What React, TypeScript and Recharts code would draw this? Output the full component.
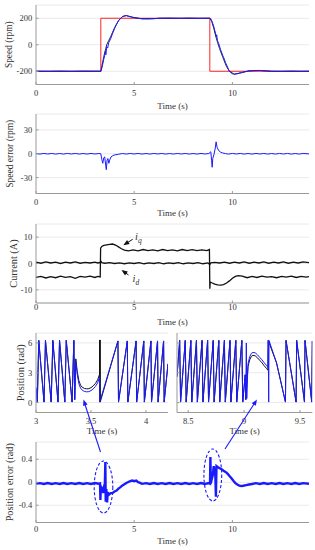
import React from 'react';
import { LineChart, Line, XAxis, YAxis, CartesianGrid } from 'recharts';

type Pt = [number, number];

const FONT = "'Liberation Serif', 'Times New Roman', serif";
const TEXT = '#333333';
const FRAME = '#9a9a9a';
const GRID = '#e4e4e4';
const BLUE = '#1a1aff';
const RED = '#ff2424';
const BLACK = '#111111';

// ---- speed (rpm) ----
const speedRef: Pt[] = [
  [0, -200], [3.3, -200], [3.3, 200], [8.85, 200], [8.85, -200], [13.9, -200],
];
const speedEst: Pt[] = [
  [0, -200], [3.3, -200], [3.35, -165], [3.45, -90], [3.55, -30], [3.6, 0], [3.7, 30],
  [3.8, 60], [3.9, 95], [4.0, 128], [4.2, 182], [4.4, 212], [4.6, 220], [4.9, 208],
  [5.4, 196], [6.0, 197], [6.3, 200], [8.85, 200], [8.95, 175], [9.05, 125], [9.15, 65],
  [9.25, 15], [9.35, -30], [9.5, -90], [9.7, -165], [9.85, -200], [10.1, -222],
  [10.45, -211], [10.85, -197], [11.4, -194], [12.0, -200], [13.9, -200],
];
const speedMeas: Pt[] = [
  [0, -200], [0.6, -201], [1.2, -199], [1.8, -201], [2.4, -199], [3.0, -200], [3.3, -200],
  [3.35, -178], [3.4, -145], [3.45, -110], [3.5, -80], [3.53, -50], [3.56, -75], [3.6, -15],
  [3.65, -25], [3.7, 15], [3.8, 45], [3.9, 85], [4.0, 122], [4.1, 155], [4.2, 180],
  [4.3, 198], [4.4, 212], [4.5, 219], [4.6, 220], [4.7, 216], [4.9, 208], [5.1, 201],
  [5.4, 196], [5.7, 195], [6.0, 197], [6.3, 200], [6.8, 201], [7.3, 199], [7.8, 201],
  [8.3, 199], [8.85, 200], [8.9, 196], [8.95, 180], [9.0, 160], [9.05, 138], [9.1, 110],
  [9.15, 80], [9.18, 60], [9.2, 75], [9.24, 30], [9.3, 10], [9.4, -38], [9.5, -78],
  [9.56, -98], [9.65, -135], [9.73, -160], [9.82, -193], [9.9, -208], [10.0, -219],
  [10.1, -222], [10.25, -219], [10.45, -211], [10.65, -203], [10.85, -197], [11.1, -194],
  [11.4, -194], [11.7, -197], [12.0, -200], [12.5, -201], [13.0, -199], [13.5, -201],
  [13.9, -200],
];

// ---- speed error (rpm) ----
const speedErr: Pt[] = [
  [0, 0.3], [0.2, -0.4], [0.4, 0.4], [0.6, -0.3], [0.8, 0.4], [1.0, -0.4], [1.2, 0.3],
  [1.4, -0.4], [1.6, 0.4], [1.8, -0.3], [2.0, 0.4], [2.2, -0.4], [2.4, 0.3], [2.6, -0.4],
  [2.8, 0.4], [3.0, -0.3], [3.2, 0.3], [3.3, 0], [3.35, -7], [3.4, -12],
  [3.45, -5], [3.5, -4], [3.55, -15], [3.58, -20], [3.62, -8], [3.66, -6], [3.71, -12],
  [3.75, -8], [3.82, -4], [3.9, -2.5], [4.0, -1.5], [4.2, -0.6], [4.4, 0.3], [4.6, -0.4],
  [4.8, 0.4], [5.0, -0.3], [5.2, 0.4], [5.4, -0.4], [5.6, 0.3], [5.8, -0.4], [6.0, 0.4],
  [6.2, -0.3], [6.4, 0.4], [6.6, -0.4], [6.8, 0.3], [7.0, -0.4], [7.2, 0.4], [7.4, -0.3],
  [7.6, 0.4], [7.8, -0.4], [8.0, 0.3], [8.2, -0.4], [8.4, 0.4], [8.6, -0.3], [8.8, 0.3],
  [8.9, 2.5], [8.94, -8], [8.97, -17], [9.0, -6], [9.06, -1], [9.12, 6], [9.17, 15],
  [9.22, 8], [9.3, 4], [9.4, 2], [9.5, 1], [9.65, 0.2], [9.8, -0.4], [10.0, 0.4],
  [10.2, -0.3], [10.4, 0.4], [10.6, -0.4], [10.8, 0.3], [11.0, -0.4], [11.2, 0.4],
  [11.4, -0.3], [11.6, 0.4], [11.8, -0.4], [12.0, 0.3], [12.2, -0.4], [12.4, 0.4],
  [12.6, -0.3], [12.8, 0.4], [13.0, -0.4], [13.2, 0.3], [13.4, -0.4], [13.6, 0.4],
  [13.9, -0.2],
];

// ---- currents (A) ----
const iq: Pt[] = [
  [0, -5.3], [0.25, -4.9], [0.5, -5.5], [0.75, -5.0], [1.0, -5.4], [1.25, -4.8], [1.5, -5.3],
  [1.75, -5.0], [2.0, -5.6], [2.25, -4.9], [2.5, -5.2], [2.75, -4.8], [3.0, -5.3],
  [3.15, -4.9], [3.27, -5.1], [3.29, 5.8], [3.35, 6.5], [3.45, 6.9], [3.6, 7.1], [3.75, 7.3],
  [3.9, 7.4], [4.05, 7.0], [4.2, 6.3], [4.35, 5.6], [4.5, 5.1], [4.7, 4.8], [4.95, 5.2],
  [5.2, 4.8], [5.45, 5.3], [5.7, 4.9], [5.95, 5.2], [6.2, 4.8], [6.45, 5.3], [6.7, 4.9],
  [6.95, 5.2], [7.2, 4.8], [7.45, 5.3], [7.7, 4.9], [7.95, 5.3], [8.2, 4.9], [8.45, 5.2],
  [8.7, 4.9], [8.83, 5.3], [8.85, -9.6], [8.87, -7.0], [8.95, -7.3], [9.1, -7.8],
  [9.25, -8.1], [9.4, -8.2], [9.55, -8.0], [9.7, -7.4], [9.85, -6.6], [10.0, -5.6],
  [10.15, -4.9], [10.3, -4.6], [10.5, -4.8], [10.75, -5.4], [11.0, -4.9], [11.25, -5.3],
  [11.5, -4.8], [11.75, -5.2], [12.0, -5.0], [12.25, -5.4], [12.5, -4.9], [12.75, -5.2],
  [13.0, -4.8], [13.25, -5.3], [13.5, -4.9], [13.75, -5.2], [13.9, -5.0],
];
const id: Pt[] = [
  [0, 0.5], [0.25, 0.1], [0.5, 0.6], [0.75, 0.2], [1.0, 0.5], [1.25, 0.0], [1.5, 0.5],
  [1.75, 0.2], [2.0, 0.6], [2.25, 0.1], [2.5, 0.4], [2.75, 0.2], [3.0, 0.5], [3.15, 0.2],
  [3.27, 0.4], [3.29, 1.0], [3.35, 0.3], [3.5, 0.1], [3.75, 0.3], [4.0, 0.0], [4.25, 0.2],
  [4.5, -0.1], [4.75, 0.2], [5.0, 0.0], [5.25, 0.3], [5.5, -0.1], [5.75, 0.2], [6.0, 0.0],
  [6.25, 0.3], [6.5, -0.1], [6.75, 0.2], [7.0, 0.0], [7.25, 0.3], [7.5, -0.1], [7.75, 0.2],
  [8.0, 0.0], [8.25, 0.3], [8.5, -0.1], [8.75, 0.2], [8.85, -0.4], [8.9, 0.2], [9.1, 0.4],
  [9.35, 0.2], [9.6, 0.5], [9.85, 0.1], [10.1, 0.5], [10.35, 0.2], [10.6, 0.6], [10.85, 0.1],
  [11.1, 0.5], [11.35, 0.2], [11.6, 0.6], [11.85, 0.1], [12.1, 0.5], [12.35, 0.2],
  [12.6, 0.6], [12.85, 0.1], [13.1, 0.5], [13.35, 0.2], [13.6, 0.6], [13.9, 0.3],
];

// ---- rotor position (rad), zoom around 3.5 s ----
const posLeftAct: Pt[] = [
  [3.0, 1.5], [3.012, 0.05], [3.025, 6.25], [3.073, 0.05], [3.086, 6.25], [3.138, 0.05],
  [3.153, 6.25], [3.2, 0.05], [3.214, 6.25], [3.262, 0.05], [3.275, 6.25], [3.328, 0.05],
  [3.344, 6.25], [3.352, 0.3], [3.362, 4.4], [3.375, 3.1], [3.39, 2.2], [3.405, 1.75],
  [3.42, 1.55], [3.44, 1.42], [3.46, 1.38], [3.48, 1.4], [3.5, 1.5], [3.52, 1.68],
  [3.54, 1.92], [3.56, 2.28], [3.578, 2.85], [3.58, 6.3], [3.581, 0.05], [3.582, 6.3],
  [3.584, 0.05], [3.745, 6.2], [3.75, 0.05], [3.83, 6.2],
  [3.835, 0.05], [3.91, 6.2], [3.915, 0.05], [3.98, 6.2], [3.985, 0.05], [4.045, 6.2],
  [4.05, 0.05], [4.105, 6.2], [4.11, 0.05], [4.16, 6.2], [4.165, 0.05], [4.2, 3.9],
];
const posLeftEst: Pt[] = [
  [3.0, 1.5], [3.012, 0.05], [3.025, 6.25], [3.073, 0.05], [3.086, 6.25], [3.138, 0.05],
  [3.153, 6.25], [3.2, 0.05], [3.214, 6.25], [3.262, 0.05], [3.275, 6.25], [3.328, 0.05],
  [3.344, 6.25], [3.352, 0.3], [3.362, 4.1], [3.375, 2.8], [3.39, 1.9], [3.405, 1.45],
  [3.42, 1.25], [3.44, 1.12], [3.46, 1.08], [3.48, 1.1], [3.5, 1.2], [3.52, 1.38],
  [3.54, 1.62], [3.56, 1.98], [3.578, 2.55], [3.579, 0.05], [3.745, 6.2], [3.75, 0.05],
  [3.83, 6.2], [3.835, 0.05], [3.91, 6.2], [3.915, 0.05], [3.98, 6.2], [3.985, 0.05],
  [4.045, 6.2], [4.05, 0.05], [4.105, 6.2], [4.11, 0.05], [4.16, 6.2], [4.165, 0.05],
  [4.2, 3.9],
];

// ---- rotor position (rad), zoom around 9 s ----
const posRightAct: Pt[] = [
  [8.4, 2.6], [8.424, 6.25], [8.432, 0.05], [8.474, 6.25], [8.482, 0.05], [8.524, 6.25],
  [8.532, 0.05], [8.574, 6.25], [8.582, 0.05], [8.624, 6.25], [8.632, 0.05], [8.674, 6.25],
  [8.682, 0.05], [8.724, 6.25], [8.732, 0.05], [8.774, 6.25], [8.782, 0.05], [8.824, 6.25],
  [8.832, 0.05], [8.874, 6.25], [8.882, 0.05], [8.926, 6.25], [8.934, 0.05], [8.98, 6.25],
  [8.988, 0.05], [9.01, 2.8], [9.015, 0.3], [9.035, 3.6], [9.05, 4.3], [9.065, 4.65],
  [9.08, 4.75], [9.1, 4.7], [9.12, 4.5], [9.14, 4.25], [9.16, 4.0], [9.18, 3.7], [9.2, 3.45],
  [9.213, 3.25], [9.216, 6.25], [9.29, 4.0], [9.37, 0.05], [9.375, 6.25], [9.465, 0.05],
  [9.47, 6.25], [9.54, 0.05], [9.545, 6.25], [9.605, 0.05], [9.61, 6.2],
];
const posRightEst: Pt[] = [
  [8.4, 2.6], [8.424, 6.25], [8.432, 0.05], [8.474, 6.25], [8.482, 0.05], [8.524, 6.25],
  [8.532, 0.05], [8.574, 6.25], [8.582, 0.05], [8.624, 6.25], [8.632, 0.05], [8.674, 6.25],
  [8.682, 0.05], [8.724, 6.25], [8.732, 0.05], [8.774, 6.25], [8.782, 0.05], [8.824, 6.25],
  [8.832, 0.05], [8.874, 6.25], [8.882, 0.05], [8.926, 6.25], [8.934, 0.05], [8.98, 6.25],
  [8.988, 0.05], [9.01, 2.8], [9.015, 0.3], [9.02, 6.0], [9.024, 0.4], [9.035, 3.9],
  [9.05, 4.6], [9.065, 4.95], [9.08, 5.05], [9.1, 5.0], [9.12, 4.8], [9.14, 4.55],
  [9.16, 4.3], [9.18, 4.0], [9.2, 3.75], [9.213, 3.55], [9.216, 6.25], [9.22, 0.05],
  [9.223, 6.25], [9.29, 4.0], [9.37, 0.05], [9.375, 6.25], [9.465, 0.05], [9.47, 6.25],
  [9.54, 0.05], [9.545, 6.25], [9.605, 0.05], [9.61, 6.2],
];

// ---- position error (rad) ----
const posErr: Pt[] = [
  [0, -0.025], [0.2, -0.015], [0.4, -0.03], [0.6, -0.014], [0.8, -0.03], [1.0, -0.015],
  [1.2, -0.029], [1.4, -0.014], [1.6, -0.03], [1.8, -0.015], [2.0, -0.03], [2.2, -0.014],
  [2.4, -0.03], [2.6, -0.015], [2.8, -0.029], [3.0, -0.014], [3.2, -0.025], [3.26, -0.02],
  [3.28, -0.31], [3.3, -0.06], [3.34, -0.13], [3.38, -0.08], [3.42, -0.19], [3.46, -0.1],
  [3.5, -0.13], [3.53, 0.35], [3.55, -0.34], [3.58, -0.12], [3.62, -0.35], [3.65, -0.17],
  [3.7, -0.22], [3.8, -0.19], [3.9, -0.185], [4.0, -0.16], [4.1, -0.145], [4.2, -0.11],
  [4.3, -0.085], [4.4, -0.055], [4.5, -0.035], [4.6, -0.012], [4.7, 0.005], [4.8, 0.02],
  [4.9, 0.03], [5.0, 0.018], [5.1, 0.028], [5.2, 0.0], [5.3, -0.01], [5.4, -0.028],
  [5.6, -0.015], [5.8, -0.03], [6.0, -0.014], [6.2, -0.03], [6.4, -0.015], [6.6, -0.029],
  [6.8, -0.014], [7.0, -0.03], [7.2, -0.015], [7.4, -0.03], [7.6, -0.014], [7.8, -0.029],
  [8.0, -0.015], [8.2, -0.03], [8.4, -0.014], [8.6, -0.03], [8.8, -0.015], [8.86, -0.025],
  [8.88, 0.44], [8.9, -0.02], [8.95, 0.06], [9.0, 0.12], [9.05, 0.28], [9.08, 0.12],
  [9.12, 0.26], [9.16, -0.25], [9.19, 0.28], [9.25, 0.265], [9.35, 0.245], [9.45, 0.225],
  [9.55, 0.2], [9.65, 0.18], [9.75, 0.15], [9.85, 0.11], [9.95, 0.07], [10.05, 0.025],
  [10.15, -0.015], [10.25, -0.04], [10.35, -0.058], [10.45, -0.065], [10.55, -0.06],
  [10.7, -0.05], [10.85, -0.04], [11.0, -0.03], [11.2, -0.015], [11.4, -0.03],
  [11.6, -0.014], [11.8, -0.029], [12.0, -0.015], [12.2, -0.03], [12.4, -0.014],
  [12.6, -0.03], [12.8, -0.015], [13.0, -0.029], [13.2, -0.014], [13.4, -0.03],
  [13.6, -0.015], [13.9, -0.025],
];

// ---- axes ----
const timeTicks = [0, 5, 10];
const timeDomain: [number, number] = [0, 13.9];
const speedTicks = [-200, 0, 200];
const errTicks = [-30, 0, 30];
const currentTicks = [-10, 0, 10];
const posTicks = [0, 3, 6];
const zoomLeftTicks = [3, 3.5, 4];
const zoomRightTicks = [8.5, 9, 9.5];
const posErrTicks = [-0.4, 0, 0.4];

const toRows = (pts: Pt[]) => pts.map(([t, v]) => ({ t, v }));

interface SeriesDef {
  key: string;
  pts: Pt[];
  color: string;
  width?: number;
}

interface PanelProps {
  box: { l: number; r: number; t: number; b: number };
  xDomain: [number, number];
  xTicks: number[];
  yDomain: [number, number];
  yTicks: number[];
  yLabel?: string;
  yLabelSize?: number;
  yLabelX?: number;
  tickGap: number;
  titleGap: number;
  series: SeriesDef[];
}

const Y_AXIS_W = 36;
const X_AXIS_H = 30;
const PAD = 3;
const TICK_LEN = -2.5;

const Panel: React.FC<PanelProps> = ({
  box,
  xDomain,
  xTicks,
  yDomain,
  yTicks,
  yLabel,
  yLabelSize = 10,
  yLabelX = 9,
  tickGap,
  titleGap,
  series,
}) => {
  const left = box.l - Y_AXIS_W;
  const top = box.t - PAD;
  const width = box.r - box.l + Y_AXIS_W + PAD;
  const height = box.b - box.t + PAD + X_AXIS_H;
  const tickFont = { fontSize: 8.5, fill: TEXT, fontFamily: FONT };
  const blank = () => '';

  return (
    <div style={{ position: 'absolute', left, top, width, height }}>
      <LineChart
        width={width}
        height={height}
        margin={{ top: PAD, right: PAD, bottom: 0, left: 0 }}
      >
        <CartesianGrid vertical={false} stroke={GRID} strokeWidth={0.8} />
        <XAxis
          dataKey='t'
          type='number'
          domain={xDomain}
          ticks={xTicks}
          interval={0}
          allowDataOverflow
          height={X_AXIS_H}
          tickSize={TICK_LEN}
          tickMargin={tickGap}
          tick={tickFont}
          stroke={FRAME}
          label={{
            value: 'Time (s)',
            position: 'insideTop',
            offset: titleGap,
            style: { fontSize: 9, fill: TEXT, fontFamily: FONT },
          }}
        />
        <XAxis
          xAxisId='top'
          orientation='top'
          dataKey='t'
          type='number'
          domain={xDomain}
          ticks={xTicks}
          interval={0}
          allowDataOverflow
          height={0}
          tickSize={TICK_LEN}
          tickFormatter={blank}
          stroke={FRAME}
        />
        <YAxis
          type='number'
          domain={yDomain}
          ticks={yTicks}
          interval={0}
          allowDataOverflow
          width={Y_AXIS_W}
          tickSize={TICK_LEN}
          tickMargin={6.3}
          tick={tickFont}
          tickFormatter={yLabel ? undefined : blank}
          stroke={FRAME}
          label={
            yLabel
              ? {
                  value: yLabel,
                  angle: -90,
                  position: 'insideLeft',
                  offset: yLabelX - left,
                  style: {
                    textAnchor: 'middle',
                    fontSize: yLabelSize,
                    fill: TEXT,
                    fontFamily: FONT,
                  },
                }
              : undefined
          }
        />
        <YAxis
          yAxisId='right'
          orientation='right'
          type='number'
          domain={yDomain}
          ticks={yTicks}
          interval={0}
          allowDataOverflow
          width={0}
          tickSize={TICK_LEN}
          tickFormatter={blank}
          stroke={FRAME}
        />
        {series.map((s) => (
          <Line
            key={s.key}
            data={toRows(s.pts)}
            dataKey='v'
            type='linear'
            stroke={s.color}
            strokeWidth={s.width ?? 1}
            dot={false}
            activeDot={false}
            isAnimationActive={false}
          />
        ))}
      </LineChart>
    </div>
  );
};

const headPoints = (tx: number, ty: number, hx: number, hy: number) => {
  const dx = hx - tx;
  const dy = hy - ty;
  const d = Math.hypot(dx, dy);
  const ux = dx / d;
  const uy = dy / d;
  const bx = hx - ux * 6;
  const by = hy - uy * 6;
  return `${hx},${hy} ${bx - uy * 2.4},${by + ux * 2.4} ${bx + uy * 2.4},${by - ux * 2.4}`;
};

const Annotations = () => (
  <svg
    width={315}
    height={550}
    style={{ position: 'absolute', left: 0, top: 0, pointerEvents: 'none' }}
  >
    {/* i_q / i_d call-outs */}
    <line x1={132.7} y1={239.3} x2={125} y2={244.2} stroke={BLACK} strokeWidth={1} />
    <polygon points={headPoints(132.7, 239.3, 123.3, 245.3)} fill={BLACK} />
    <text x={135} y={240} fontFamily={FONT} fontStyle='italic' fontSize={10.5} fill={TEXT}>
      i<tspan dy={2.5} fontSize={7.5}>q</tspan>
    </text>
    <line x1={128.5} y1={275} x2={123} y2={271} stroke={BLACK} strokeWidth={1} />
    <polygon points={headPoints(128.5, 275, 121.5, 270)} fill={BLACK} />
    <text x={132.5} y={282} fontFamily={FONT} fontStyle='italic' fontSize={10.5} fill={TEXT}>
      i<tspan dy={2.5} fontSize={7.5}>d</tspan>
    </text>

    {/* highlighted transients and pointers to the zoomed views */}
    <ellipse cx={103.5} cy={487} rx={9.3} ry={26} fill='none' stroke={BLUE} strokeWidth={1.1} strokeDasharray='3 2' />
    <ellipse cx={212.8} cy={475} rx={8.9} ry={26} fill='none' stroke={BLUE} strokeWidth={1.1} strokeDasharray='3 2' />
    <line x1={100.5} y1={452} x2={84.5} y2={403} stroke={BLUE} strokeWidth={1.1} />
    <polygon points={headPoints(100.5, 452, 83.5, 399.5)} fill={BLUE} />
    <line x1={225} y1={449} x2={255} y2={402.5} stroke={BLUE} strokeWidth={1.1} />
    <polygon points={headPoints(225, 449, 257, 399.5)} fill={BLUE} />
  </svg>
);

export default function App() {
  return (
    <div
      style={{
        position: 'absolute',
        left: 0,
        top: 0,
        width: 315,
        height: 550,
        background: '#ffffff',
        overflow: 'hidden',
        fontFamily: FONT,
      }}
    >
      <Panel
        box={{ l: 35.5, r: 308.5, t: 5, b: 84.5 }}
        xDomain={timeDomain}
        xTicks={timeTicks}
        yDomain={[-300, 300]}
        yTicks={speedTicks}
        yLabel='Speed (rpm)'
        yLabelSize={9.4}
        yLabelX={7.9}
        tickGap={8.1}
        titleGap={18.1}
        series={[
          { key: 'ref', pts: speedRef, color: RED },
          { key: 'est', pts: speedEst, color: BLACK, width: 0.9 },
          { key: 'meas', pts: speedMeas, color: BLUE },
        ]}
      />
      <Panel
        box={{ l: 35.5, r: 308.5, t: 113.5, b: 193 }}
        xDomain={timeDomain}
        xTicks={timeTicks}
        yDomain={[-50, 50]}
        yTicks={errTicks}
        yLabel='Speed error (rpm)'
        yLabelSize={9.5}
        yLabelX={9.6}
        tickGap={7.8}
        titleGap={16.1}
        series={[{ key: 'err', pts: speedErr, color: BLUE }]}
      />
      <Panel
        box={{ l: 35.5, r: 308.5, t: 224, b: 303 }}
        xDomain={timeDomain}
        xTicks={timeTicks}
        yDomain={[-15, 15]}
        yTicks={currentTicks}
        yLabel='Current (A)'
        yLabelSize={10.3}
        yLabelX={12.8}
        tickGap={3.8}
        titleGap={16.1}
        series={[
          { key: 'id', pts: id, color: BLACK, width: 1.3 },
          { key: 'iq', pts: iq, color: BLACK, width: 1.3 },
        ]}
      />
      <Panel
        box={{ l: 35.5, r: 167.5, t: 332.5, b: 412 }}
        xDomain={[3, 4.2]}
        xTicks={zoomLeftTicks}
        yDomain={[-1, 7]}
        yTicks={posTicks}
        yLabel='Position (rad)'
        yLabelSize={10.4}
        yLabelX={19.5}
        tickGap={7.8}
        titleGap={15.6}
        series={[
          { key: 'act', pts: posLeftAct, color: BLACK },
          { key: 'est', pts: posLeftEst, color: BLUE },
        ]}
      />
      <Panel
        box={{ l: 177.2, r: 312.5, t: 332.5, b: 412 }}
        xDomain={[8.4, 9.61]}
        xTicks={zoomRightTicks}
        yDomain={[-1, 7]}
        yTicks={posTicks}
        tickGap={7.8}
        titleGap={15.6}
        series={[
          { key: 'act', pts: posRightAct, color: BLACK },
          { key: 'est', pts: posRightEst, color: BLUE },
        ]}
      />
      <Panel
        box={{ l: 35.5, r: 308.5, t: 441.5, b: 522 }}
        xDomain={timeDomain}
        xTicks={timeTicks}
        yDomain={[-0.7, 0.7]}
        yTicks={posErrTicks}
        yLabel='Position error (rad)'
        yLabelSize={10.2}
        yLabelX={9}
        tickGap={5.6}
        titleGap={15.3}
        series={[{ key: 'perr', pts: posErr, color: BLUE, width: 2.4 }]}
      />
      <Annotations />
    </div>
  );
}
